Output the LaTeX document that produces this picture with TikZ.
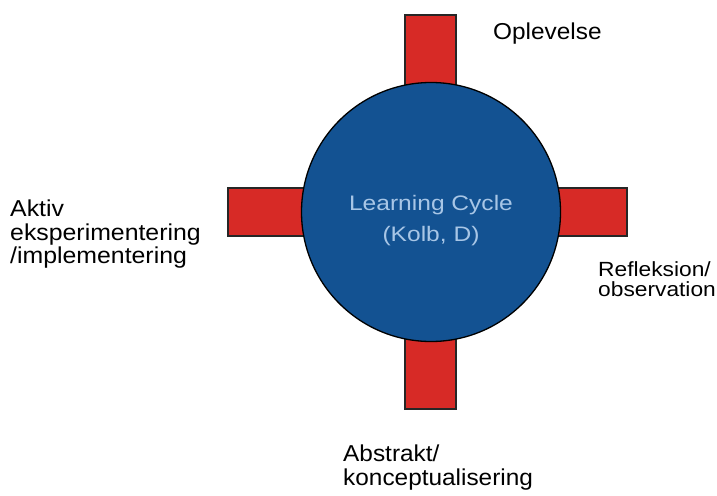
\documentclass[tikz,border=0pt]{standalone}
\usepackage{fontspec}
\setmainfont{Liberation Sans}
\definecolor{kolbred}{HTML}{D72A26}
\definecolor{kolbblue}{HTML}{135292}
\definecolor{kolbtext}{HTML}{A8C6E6}
\begin{document}
\begin{tikzpicture}[x=1pt,y=1pt,
    bar/.style={draw=black!85, line width=1.3pt, fill=kolbred},
    lbl/.style={inner sep=0pt, align=left, anchor=north west, transform shape}]
    \useasboundingbox (0,0) rectangle (717,-495);
    % arms of the cycle
    \draw[bar] (405,-15) rectangle (456,-120);
    \draw[bar] (405,-409) rectangle (456,-300);
    \draw[bar] (228,-188) rectangle (330,-236);
    \draw[bar] (627,-188) rectangle (530,-236);
    % the cycle
    \node[circle, draw=black, line width=1.3pt, fill=kolbblue, minimum size=259pt]
        (cycle) at (431,-212) {};
    \node[text=kolbtext, align=center, inner sep=0pt, transform shape, xscale=1.17,
        font=\fontsize{21}{31.5}\selectfont]
        (cyclename) at (431,-220.5) {Learning Cycle\\(Kolb, D)};
    % stages
    \node[lbl, xscale=1.06, font=\fontsize{23}{23.5}\selectfont] (oplev) at (493,-23) {Oplevelse};
    \node[lbl, xscale=1.11, font=\fontsize{20.5}{20.5}\selectfont] (refl) at (598,-261) {Refleksion/\\observation};
    \node[lbl, xscale=1.06, font=\fontsize{23}{23.5}\selectfont] (abstr) at (343,-445) {Abstrakt/\\konceptualisering};
    \node[lbl, xscale=1.08, font=\fontsize{23}{23.5}\selectfont] (aktiv) at (10,-200) {Aktiv\\eksperimentering\\/implementering};
\end{tikzpicture}
\end{document}
